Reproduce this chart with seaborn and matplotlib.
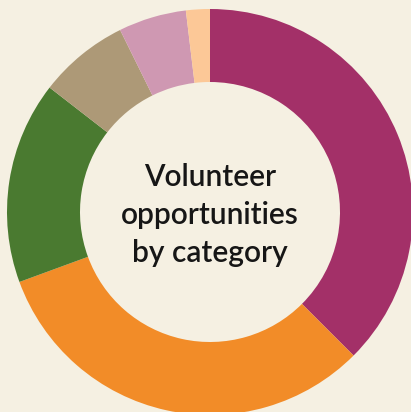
import matplotlib
matplotlib.use("Agg")
import matplotlib.pyplot as plt
import seaborn as sns

categories = ["Community", "Education", "Environment", "Health", "Arts", "Other"]
values = [37.5, 31.9, 16.1, 7.2, 5.4, 1.9]
colors = ["#A33068", "#F28C28", "#4A7A30", "#AD9977", "#CF98B2", "#FCC897"]
title_text = "Volunteer\nopportunities\nby category"

bg = "#F5F0E2"
sns.set_theme(style="white")
plt.rcParams["font.family"] = ["Lato", "DejaVu Sans"]

W, H = 411, 412
fig = plt.figure(figsize=(W / 100, H / 100), dpi=100, facecolor=bg)
ax = fig.add_axes([0, 0, 1, 1])
ax.set_facecolor(bg)

R = 203.0
cx, cy = 210.0, 212.0
ax.pie(values, colors=sns.color_palette(colors), startangle=90, counterclock=False,
       radius=1, wedgeprops=dict(width=1 - 130 / R, linewidth=0))
ax.set_xlim(-cx / R, (W - cx) / R)
ax.set_ylim(-(H - cy) / R, cy / R)
ax.set_aspect("auto")
ax.axis("off")

ax.text(0, -0.015, title_text, ha="center", va="center", fontsize=21.5,
        fontweight="semibold", color="#161616", linespacing=1.42)

fig.savefig("out.png", dpi=100, facecolor=bg)
